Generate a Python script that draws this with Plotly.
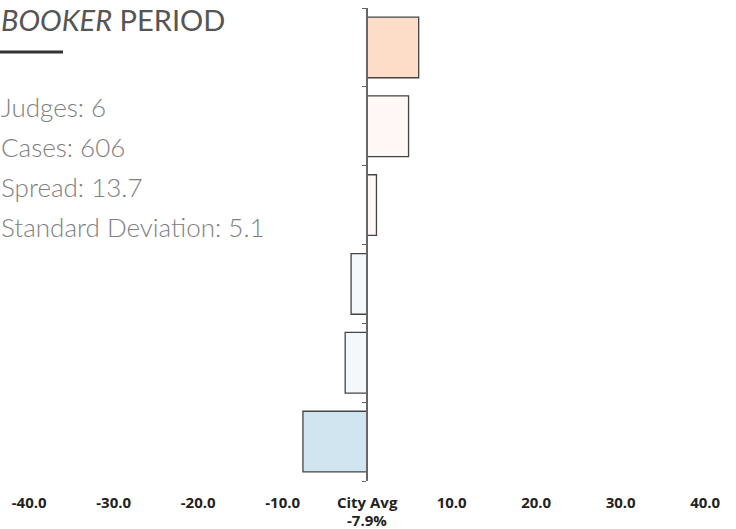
import plotly.graph_objects as go

judges = ["Judge 1", "Judge 2", "Judge 3", "Judge 4", "Judge 5", "Judge 6"]
diffs = [6.1, 4.9, 1.1, -1.9, -2.6, -7.6]
bar_colors = ["#FDDCC8", "#FFF8F4", "#FFF8F4", "#F3F8FB", "#F3F8FB", "#D1E5F0"]
tick_vals = [-40, -30, -20, -10, 0, 10, 20, 30, 40]
tick_text = ["-40.0", "-30.0", "-20.0", "-10.0", "City Avg", "10.0", "20.0", "30.0", "40.0"]
city_avg_label = "-7.9%"
stats = ["Judges: 6", "Cases: 606", "Spread: 13.7", "Standard Deviation: 5.1"]

W, H = 736, 529
mt, mb = 8, 48
x_range = [-43.45, 43.65]
zero_pos = (0 - x_range[0]) / (x_range[1] - x_range[0])

def py(pix):
    return (H - mb - pix) / (H - mt - mb)

tick_font = dict(family="Open Sans", size=15, color="#222222", weight="bold")

fig = go.Figure(go.Bar(
    x=diffs, y=judges, orientation="h",
    marker=dict(color=bar_colors, line=dict(color="#444444", width=1.3)),
    width=0.77,
))

fig.update_layout(
    width=W, height=H,
    margin=dict(l=0, r=0, t=mt, b=mb, autoexpand=False),
    plot_bgcolor="white", paper_bgcolor="white",
    showlegend=False,
    xaxis=dict(range=x_range, tickvals=tick_vals, ticktext=tick_text,
               showgrid=False, zeroline=False, showline=False, automargin=False,
               ticks="outside", ticklen=8, tickcolor="rgba(0,0,0,0)",
               tickfont=tick_font),
    yaxis=dict(categoryorder="array", categoryarray=judges[::-1],
               anchor="free", position=zero_pos, automargin=False,
               showline=True, linecolor="#666666", linewidth=1.5,
               ticks="outside", ticklen=4, tickcolor="#666666", tickson="boundaries",
               showticklabels=False, showgrid=False, zeroline=False),
)

fig.add_annotation(xref="x", yref="paper", x=0, y=py(520), xanchor="center", yanchor="middle",
                   text=city_avg_label, showarrow=False, borderpad=0, font=tick_font)
fig.add_annotation(xref="paper", yref="paper", x=0, y=py(20), xanchor="left", yanchor="middle",
                   text="<i>BOOKER</i> PERIOD", showarrow=False, borderpad=0,
                   font=dict(family="Lato", size=29, color="#555555"))
fig.add_shape(type="line", xref="paper", yref="paper", x0=0, x1=63 / W, y0=py(52), y1=py(52),
              line=dict(color="#333333", width=3))
for i, s in enumerate(stats):
    fig.add_annotation(xref="paper", yref="paper", x=0, y=py(107 + i * 40), xanchor="left", yanchor="middle",
                       text=s, showarrow=False, borderpad=0,
                       font=dict(family="Lato", size=26, color="#808080", weight=300))

fig.write_html("out.html", config={"displayModeBar": False},
               post_script="document.body.style.margin='0px';")
